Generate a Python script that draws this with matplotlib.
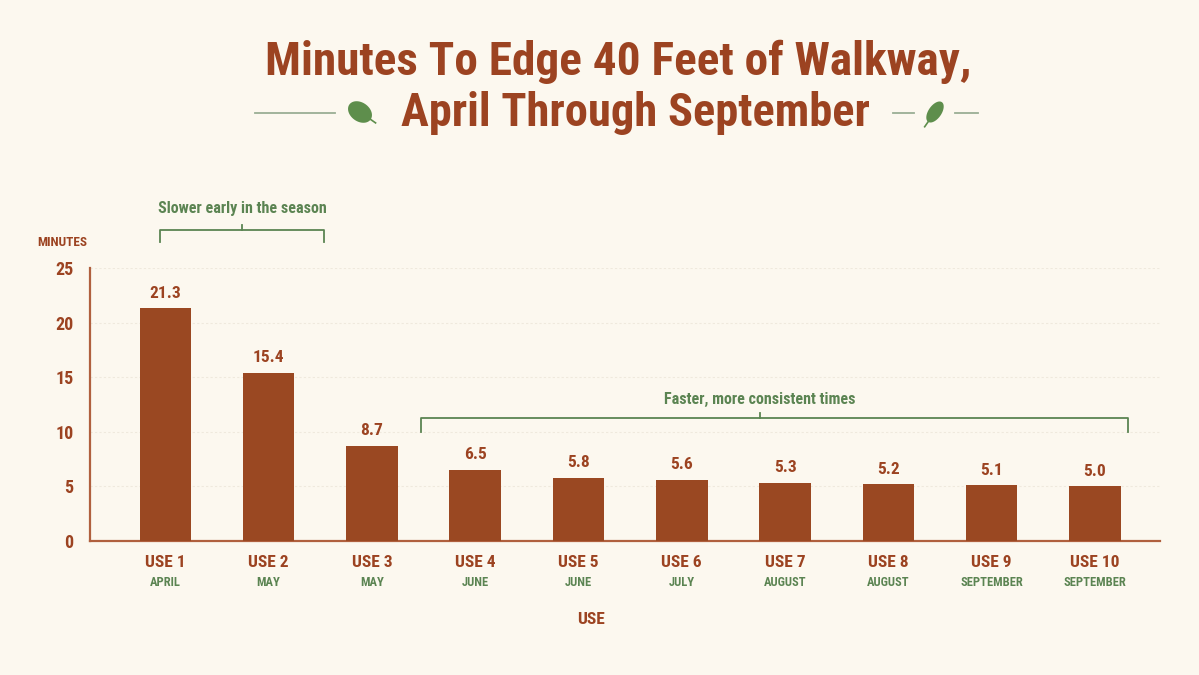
import matplotlib
matplotlib.use("Agg")
import matplotlib.pyplot as plt
import numpy as np
from matplotlib.patches import Polygon
from matplotlib.transforms import blended_transform_factory

uses = ["USE 1", "USE 2", "USE 3", "USE 4", "USE 5", "USE 6", "USE 7", "USE 8", "USE 9", "USE 10"]
months = ["APRIL", "MAY", "MAY", "JUNE", "JUNE", "JULY", "AUGUST", "AUGUST", "SEPTEMBER", "SEPTEMBER"]
minutes = [21.3, 15.4, 8.7, 6.5, 5.8, 5.6, 5.3, 5.2, 5.1, 5.0]
y_ticks = [0, 5, 10, 15, 20, 25]

BG = "#FCF8EF"
BROWN = "#9C4321"
BAR = "#9A4822"
GREEN = "#5B8452"
LEAF = "#5E8E4C"
RULE = "#9AAE95"

plt.rcParams['font.family'] = ['Roboto Condensed', 'DejaVu Sans']
plt.rcParams['font.weight'] = 'bold'

fig = plt.figure(figsize=(11.99, 6.75), dpi=100, facecolor=BG)
ax = fig.add_axes([90 / 1199, 1 - 541 / 675, 1070 / 1199, 273 / 675])
ax.set_facecolor(BG)

x = np.arange(len(minutes))
ax.bar(x, minutes, width=0.5, color=BAR, zorder=3)
for xi, v in zip(x, minutes):
    ax.text(xi, v + 0.7, f"{v:.1f}", ha="center", va="bottom", color=BROWN,
            fontsize=12.5, fontweight="bold", zorder=4)

ax.set_xlim(-0.73, 9.63)
ax.set_ylim(0, 25)
ax.set_yticks(y_ticks)
ax.set_yticklabels([str(t) for t in y_ticks], color=BROWN, fontsize=13, fontweight="bold")
ax.yaxis.grid(True, color="#EFE9DD", linestyle=(0, (2, 2)), linewidth=0.8, zorder=0)
ax.tick_params(axis="both", length=0)
ax.tick_params(axis="y", pad=12)
ax.set_xticks(x)
ax.set_xticklabels(uses, color=BROWN, fontsize=12.5, fontweight="bold")
ax.tick_params(axis="x", pad=10)

tr = blended_transform_factory(ax.transData, ax.transAxes)
for xi, m in zip(x, months):
    ax.text(xi, -0.13, m, transform=tr, ha="center", va="top", color=GREEN,
            fontsize=9, fontweight="bold")

for s in ["top", "right"]:
    ax.spines[s].set_visible(False)
for s in ["left", "bottom"]:
    ax.spines[s].set_color("#B0603E")
    ax.spines[s].set_linewidth(1.6)

ax.set_xlabel("USE", color=BROWN, fontsize=12.5, fontweight="bold")
ax.xaxis.set_label_coords((591 - 90) / 1070, -0.26)

# overlay in pixel coordinates for title decoration and brackets
ov = fig.add_axes([0, 0, 1, 1], facecolor="none")
ov.set_xlim(0, 1199)
ov.set_ylim(675, 0)
ov.axis("off")

ov.text(37, 243, "MINUTES", ha="left", va="center", color=BROWN, fontsize=9.5, fontweight="bold")
ov.text(618, 62, "Minutes To Edge 40 Feet of Walkway,", ha="center", va="center",
        color=BROWN, fontsize=34, fontweight="bold")
ov.text(635, 113, "April Through September", ha="center", va="center",
        color=BROWN, fontsize=33.5, fontweight="bold")


def leaf(cx, cy, length, width, angle):
    t = np.linspace(0, np.pi, 40)
    xs = np.concatenate([np.cos(t), np.cos(t[::-1])]) * length / 2
    ys = np.concatenate([np.sin(t), -np.sin(t[::-1])]) * width / 2
    a = np.deg2rad(angle)
    px = cx + xs * np.cos(a) - ys * np.sin(a)
    py = cy + xs * np.sin(a) + ys * np.cos(a)
    ov.add_patch(Polygon(np.column_stack([px, py]), closed=True, color=LEAF, lw=0))
    ex = cx + length / 2 * np.cos(a)
    ey = cy + length / 2 * np.sin(a)
    ov.plot([ex, ex + 6 * np.cos(a)], [ey, ey + 6 * np.sin(a)], color=LEAF, lw=1.2)


ov.plot([255, 335], [113, 113], color=RULE, lw=1.3)
leaf(360, 112, 26, 19, 35)
ov.plot([893, 914], [113, 113], color=RULE, lw=1.3)
ov.plot([955, 978], [113, 113], color=RULE, lw=1.3)
leaf(935, 112, 24, 13, 125)


def bracket(x0, x1, xm, y, drop, label, ty):
    ov.plot([x0, x0, x1, x1], [y + drop, y, y, y + drop], color=GREEN, lw=1.3)
    ov.plot([xm, xm], [y, y - 5], color=GREEN, lw=1.3)
    ov.text(xm, ty, label, ha="center", va="center", color=GREEN, fontsize=11.5, fontweight="bold")


bracket(160, 324, 242, 230, 12, "Slower early in the season", 209)
bracket(421, 1128, 760, 418, 14, "Faster, more consistent times", 399)

fig.savefig("out.png", dpi=100, facecolor=BG)
